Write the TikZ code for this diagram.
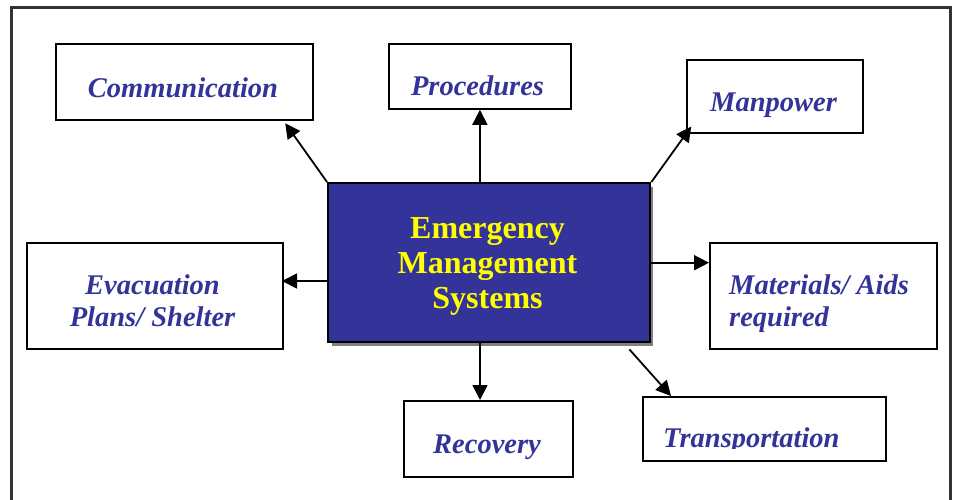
\documentclass[tikz,border=0pt]{standalone}
\usepackage{fontspec}
\setmainfont{Liberation Serif}
\usetikzlibrary{arrows.meta,calc}
\definecolor{navy}{HTML}{333399}
\definecolor{framegray}{HTML}{333333}
\definecolor{shadowgray}{HTML}{808080}
\definecolor{emsyellow}{HTML}{FFFF00}
\begin{document}
\begin{tikzpicture}[x=1pt,y=-1pt,
  box/.style={draw=black, line width=1.8pt, fill=white, rectangle, inner sep=0pt, anchor=north west},
  lbl/.style={text=navy, font=\fontsize{28.5}{32}\selectfont\bfseries\itshape, inner sep=0pt, anchor=base},
  arr/.style={line width=1.8pt, -{Triangle[length=15pt,width=15pt]}},
  emsbox/.style={draw=black, line width=2.4pt, fill=navy, rectangle, inner sep=0pt, anchor=north west},
  emstext/.style={text=emsyellow, font=\fontsize{32}{35}\selectfont\bfseries, inner sep=0pt, anchor=base, align=center}]
\useasboundingbox (0,0) rectangle (957,499);
% outer frame
\draw[line width=3pt, framegray] (11.5,7.5) rectangle (950,530);
% boxes
\node[box, minimum width=257pt, minimum height=76pt] (comm) at (55,43) {};
\node[box, minimum width=182pt, minimum height=65pt] (proc) at (388,43) {};
\node[box, minimum width=176pt, minimum height=73pt] (man) at (686,59) {};
\node[box, minimum width=256pt, minimum height=106pt] (evac) at (26,242) {};
\node[box, minimum width=227pt, minimum height=106pt] (mat) at (709,242) {};
\node[box, minimum width=169pt, minimum height=76pt] (rec) at (403,400) {};
\node[box, minimum width=243pt, minimum height=64pt] (trans) at (642,396) {};
% central box with shadow
\fill[shadowgray] (332,187) rectangle (653,346);
\node[emsbox, minimum width=322pt, minimum height=159pt] (ems) at (327,182) {};
\node[emstext] (emstxt) at (487.5,308) {Emergency\\Management\\Systems};
% labels
\node[lbl] (commtxt) at (183,97) {Communication};
\node[lbl] (proctxt) at (477.5,95) {Procedures};
\node[lbl] (mantxt) at (773.5,111) {Manpower};
\node[lbl, align=center] (evactxt) at (152.5,326) {Evacuation\\Plans/ Shelter};
\node[lbl, anchor=base west, align=left] (mattxt) at (729,326) {Materials/ Aids\\required};
\node[lbl] (rectxt) at (487,453) {Recovery};
\begin{scope}
  \clip (642,396) rectangle (885,448.5);
  \node[lbl, anchor=base west] (transtxt) at (663,447.5) {Transportation};
\end{scope}
% connectors
\draw[arr, shorten >=3pt] (ems.north west) -- ($(comm.south west)!0.883!(comm.south east)$);
\draw[arr] (ems.north -| proc.south) -- (proc.south);
\draw[arr, shorten >=-9pt] (ems.north east) -- (man.south west);
\draw[arr] ($(ems.north west)+(0,99)$) -- ($(ems.north west)+(-45,99)$) coordinate (evacend);
\draw[arr] (ems.east) -- (ems.east -| mat.west);
\draw[arr] ($(ems.south west)+(153,0)$) -- ($(rec.north west)+(77,0)$);
\draw[arr] ($(ems.south east)+(-22,6)$) -- ($(trans.north west)+(29,0)$);
\end{tikzpicture}
\end{document}
